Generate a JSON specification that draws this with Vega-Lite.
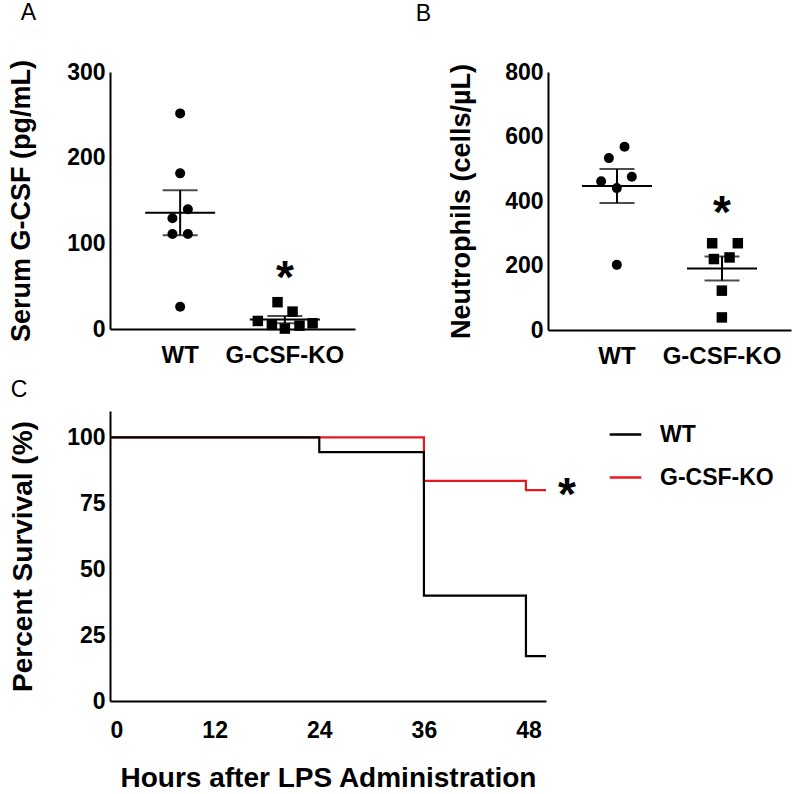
{
  "$schema": "https://vega.github.io/schema/vega-lite/v6.json",
  "padding": {"left": 7, "top": 1, "right": 5, "bottom": 0},
  "background": "white",
  "config": {
    "font": "Liberation Sans",
    "view": {"stroke": null},
    "axis": {
      "domainColor": "black", "domainWidth": 2, "ticks": false, "grid": false,
      "labelFont": "Liberation Sans", "labelFontWeight": "bold", "labelColor": "black", "labelFontSize": 23,
      "titleFont": "Liberation Sans", "titleFontWeight": "bold", "titleColor": "black", "titleFontSize": 27
    },
    "title": {"font": "Liberation Sans", "fontWeight": "normal", "fontSize": 23, "anchor": "start", "frame": "bounds", "color": "black"}
  },
  "datasets": {
    "serum": [
      {"group": "WT", "value": 251.7, "jitter": 0},
      {"group": "WT", "value": 181.7, "jitter": 0},
      {"group": "WT", "value": 139.7, "jitter": 0.147},
      {"group": "WT", "value": 129.2, "jitter": -0.147},
      {"group": "WT", "value": 110.9, "jitter": -0.147},
      {"group": "WT", "value": 110.9, "jitter": 0.147},
      {"group": "WT", "value": 26, "jitter": 0},
      {"group": "G-CSF-KO", "value": 31.3, "jitter": -0.14},
      {"group": "G-CSF-KO", "value": 20.3, "jitter": 0.147},
      {"group": "G-CSF-KO", "value": 9.4, "jitter": -0.516},
      {"group": "G-CSF-KO", "value": 4.7, "jitter": -0.248},
      {"group": "G-CSF-KO", "value": 0.5, "jitter": 0},
      {"group": "G-CSF-KO", "value": 3.9, "jitter": 0.28},
      {"group": "G-CSF-KO", "value": 6.7, "jitter": 0.53}
    ],
    "neut": [
      {"group": "WT", "value": 568, "jitter": 0.147},
      {"group": "WT", "value": 533, "jitter": -0.152},
      {"group": "WT", "value": 461, "jitter": -0.3},
      {"group": "WT", "value": 475, "jitter": 0.286},
      {"group": "WT", "value": 440, "jitter": 0},
      {"group": "WT", "value": 202, "jitter": 0},
      {"group": "G-CSF-KO", "value": 269, "jitter": -0.185},
      {"group": "G-CSF-KO", "value": 269, "jitter": 0.305},
      {"group": "G-CSF-KO", "value": 220, "jitter": -0.152},
      {"group": "G-CSF-KO", "value": 225, "jitter": 0.147},
      {"group": "G-CSF-KO", "value": 122, "jitter": 0},
      {"group": "G-CSF-KO", "value": 39, "jitter": 0}
    ],
    "surv": [
      {"group": "G-CSF-KO", "hours": 0, "pct": 100},
      {"group": "G-CSF-KO", "hours": 36, "pct": 83.5},
      {"group": "G-CSF-KO", "hours": 47.7, "pct": 80},
      {"group": "G-CSF-KO", "hours": 50, "pct": 80},
      {"group": "WT", "hours": 0, "pct": 100},
      {"group": "WT", "hours": 24, "pct": 94.4},
      {"group": "WT", "hours": 36, "pct": 40},
      {"group": "WT", "hours": 47.7, "pct": 17},
      {"group": "WT", "hours": 50, "pct": 17}
    ]
  },
  "columns": 1,
  "align": "none",
  "bounds": "full",
  "spacing": 11,
  "resolve": {"scale": {"color": "independent"}, "legend": {"color": "independent"}},
  "concat": [
    {
      "spacing": 60,
      "bounds": "full",
      "hconcat": [
        {
          "title": {"text": "A", "dx": 13, "offset": 35},
          "width": 245, "height": 257,
          "data": {"name": "serum"},
          "encoding": {
            "x": {"field": "group", "type": "nominal", "sort": ["WT", "G-CSF-KO"],
                  "scale": {"paddingInner": 0, "paddingOuter": 0.17},
                  "axis": {"title": null, "labelAngle": 0, "labelPadding": 14, "labelFontSize": 24}}
          },
          "layer": [
            {
              "mark": {"type": "point", "filled": true, "opacity": 1, "color": "black", "strokeWidth": 0},
              "encoding": {
                "xOffset": {"field": "jitter", "type": "quantitative", "scale": {"domain": [-1, 1]}},
                "y": {"field": "value", "type": "quantitative", "scale": {"domain": [0, 300]}, "title": "Serum G-CSF (pg/mL)",
                      "axis": {"values": [0, 100, 200, 300], "labelPadding": 5, "titlePadding": 31}},
                "shape": {"field": "group", "type": "nominal", "scale": {"domain": ["WT", "G-CSF-KO"], "range": ["circle", "square"]}, "legend": null},
                "size": {"field": "group", "type": "nominal", "scale": {"domain": ["WT", "G-CSF-KO"], "range": [100, 110]}, "legend": null}
              }
            },
            {
              "mark": {"type": "tick", "color": "black", "thickness": 2, "size": 70},
              "encoding": {"y": {"aggregate": "mean", "field": "value", "type": "quantitative", "title": "Serum G-CSF (pg/mL)"}}
            },
            {
              "mark": {"type": "errorbar", "extent": "stderr", "color": "black", "thickness": 2, "ticks": {"size": 35, "thickness": 2, "color": "black"}},
              "encoding": {"y": {"field": "value", "type": "quantitative", "title": "Serum G-CSF (pg/mL)"}}
            },
            {
              "data": {"values": [{"group": "G-CSF-KO", "y": 72.7, "t": "*"}]},
              "mark": {"type": "text", "fontSize": 46, "fontWeight": "bold", "baseline": "alphabetic", "dy": 26, "color": "black"},
              "encoding": {"y": {"field": "y", "type": "quantitative", "title": "Serum G-CSF (pg/mL)"}, "text": {"field": "t"}}
            }
          ]
        },
        {
          "title": {"text": "B", "dx": -32, "offset": 35},
          "width": 243, "height": 258,
          "data": {"name": "neut"},
          "encoding": {
            "x": {"field": "group", "type": "nominal", "sort": ["WT", "G-CSF-KO"],
                  "scale": {"paddingInner": 0, "paddingOuter": 0.157},
                  "axis": {"title": null, "labelAngle": 0, "labelPadding": 14, "labelFontSize": 24}}
          },
          "layer": [
            {
              "mark": {"type": "point", "filled": true, "opacity": 1, "color": "black", "strokeWidth": 0},
              "encoding": {
                "xOffset": {"field": "jitter", "type": "quantitative", "scale": {"domain": [-1, 1]}},
                "y": {"field": "value", "type": "quantitative", "scale": {"domain": [0, 800]}, "title": "Neutrophils (cells/µL)",
                      "axis": {"values": [0, 200, 400, 600, 800], "labelPadding": 5, "titlePadding": 29}},
                "shape": {"field": "group", "type": "nominal", "scale": {"domain": ["WT", "G-CSF-KO"], "range": ["circle", "square"]}, "legend": null},
                "size": {"field": "group", "type": "nominal", "scale": {"domain": ["WT", "G-CSF-KO"], "range": [100, 110]}, "legend": null}
              }
            },
            {
              "mark": {"type": "tick", "color": "black", "thickness": 2, "size": 70},
              "encoding": {"y": {"aggregate": "mean", "field": "value", "type": "quantitative", "title": "Neutrophils (cells/µL)"}}
            },
            {
              "mark": {"type": "errorbar", "extent": "stderr", "color": "black", "thickness": 2, "ticks": {"size": 35, "thickness": 2, "color": "black"}},
              "encoding": {"y": {"field": "value", "type": "quantitative", "title": "Neutrophils (cells/µL)"}}
            },
            {
              "data": {"values": [{"group": "G-CSF-KO", "y": 397, "t": "*"}]},
              "mark": {"type": "text", "fontSize": 46, "fontWeight": "bold", "baseline": "alphabetic", "dy": 26, "color": "black"},
              "encoding": {"y": {"field": "y", "type": "quantitative", "title": "Neutrophils (cells/µL)"}, "text": {"field": "t"}}
            }
          ]
        }
      ]
    },
    {
      "title": {"text": "C", "dx": 1, "offset": 9},
      "width": 436, "height": 290,
      "layer": [
        {
          "data": {"name": "surv"},
          "mark": {"type": "line", "interpolate": "step-after", "strokeWidth": 2.2},
          "encoding": {
            "x": {"field": "hours", "type": "quantitative", "scale": {"domain": [0, 50], "nice": false}, "title": "Hours after LPS Administration",
                  "axis": {"values": [0, 12, 24, 36, 48], "titleFontSize": 28, "labelPadding": 18, "titlePadding": 22}},
            "y": {"field": "pct", "type": "quantitative", "scale": {"domain": [0, 110], "nice": false}, "title": "Percent Survival (%)",
                  "axis": {"values": [0, 25, 50, 75, 100], "titleFontSize": 28, "labelPadding": 5, "titlePadding": 29}},
            "color": {"field": "group", "type": "nominal", "scale": {"domain": ["WT", "G-CSF-KO"], "range": ["black", "#e8191e"]},
                      "legend": {"title": null, "orient": "none", "legendX": 498, "legendY": 6, "symbolType": "stroke", "symbolSize": 1000, "symbolStrokeWidth": 2.5,
                                 "labelFontSize": 23, "labelFontWeight": "bold", "labelColor": "black", "labelFont": "Liberation Sans", "labelOffset": 17, "rowPadding": 13}}
          }
        },
        {
          "data": {"values": [{"hours": 52.4, "y": 82.5, "t": "*"}]},
          "mark": {"type": "text", "fontSize": 46, "fontWeight": "bold", "baseline": "alphabetic", "dy": 26, "color": "black"},
          "encoding": {"x": {"field": "hours", "type": "quantitative", "title": "Hours after LPS Administration"}, "y": {"field": "y", "type": "quantitative", "title": "Percent Survival (%)"}, "text": {"field": "t"}}
        }
      ]
    }
  ]
}
